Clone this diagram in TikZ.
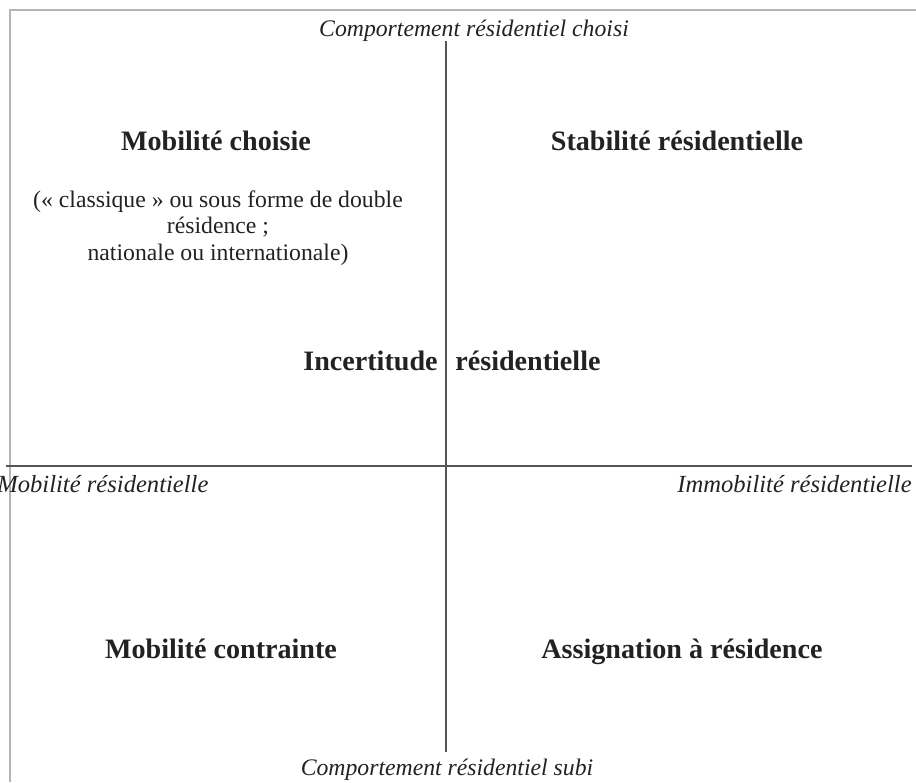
\documentclass[tikz,border=0pt]{standalone}
\usepackage{fontspec}
\setmainfont{Liberation Serif}
\usepackage{tikz}
\usetikzlibrary{positioning, calc}
\definecolor{axisgray}{HTML}{555555}
\definecolor{framegray}{HTML}{B4B4B4}
\definecolor{inkgray}{HTML}{222222}

\begin{document}
\begin{tikzpicture}[x=0.02cm, y=-0.02cm,
        quadlabel/.style={text=inkgray, font=\fontsize{16}{18}\selectfont\bfseries, inner sep=0pt, anchor=base},
        axislabel/.style={text=inkgray, font=\fontsize{14}{16}\selectfont\itshape, inner sep=0pt},
        poslabel/.style={axislabel, font=\fontsize{13.5}{16}\selectfont\itshape, anchor=base},
        notelabel/.style={text=inkgray, font=\fontsize{13.5}{15}\selectfont, align=center, inner sep=0pt}]
        \useasboundingbox (0,0) rectangle (916,782);
        \clip (0,0) rectangle (916,782);
        \coordinate (frametr) at (916,10);
        \coordinate (frametl) at (10,10);
        \coordinate (framebl) at (10,782);
        \draw[framegray, line width=1.7pt] (frametr) -- (frametl) -- (framebl);
        \coordinate (axtop) at (446,41);
        \coordinate (axbot) at (446,752);
        \coordinate (axleft) at (6,466);
        \coordinate (axright) at (912,466);
        \draw[axisgray, line width=0.8pt] (axtop) -- (axbot);
        \draw[axisgray, line width=0.8pt] (axleft) -- (axright);
        \node[poslabel] (choisi) at (474,36) {Comportement résidentiel choisi};
        \node[poslabel] (subi) at (447,775) {Comportement résidentiel subi};
        \node[axislabel, anchor=west] (mobres) at (-3,484) {Mobilité résidentielle};
        \node[axislabel, anchor=east] (immobres) at (912,484) {Immobilité résidentielle};
        \node[quadlabel] (mobchoisie) at (216,150) {Mobilité choisie};
        \node[notelabel] (mobnote) at (218,228) {(«~classique~» ou sous forme de double\\résidence ;\\nationale ou internationale)};
        \node[quadlabel] (stabilite) at (677,150) {Stabilité résidentielle};
        \node[quadlabel, anchor=base east] (incert) at (438,370) {Incertitude};
        \node[quadlabel, anchor=base west] (incertres) at (455,370) {résidentielle};
        \node[quadlabel] (mobcontr) at (221,658) {Mobilité contrainte};
        \node[quadlabel] (assign) at (682,658) {Assignation à résidence};
\end{tikzpicture}
\end{document}
